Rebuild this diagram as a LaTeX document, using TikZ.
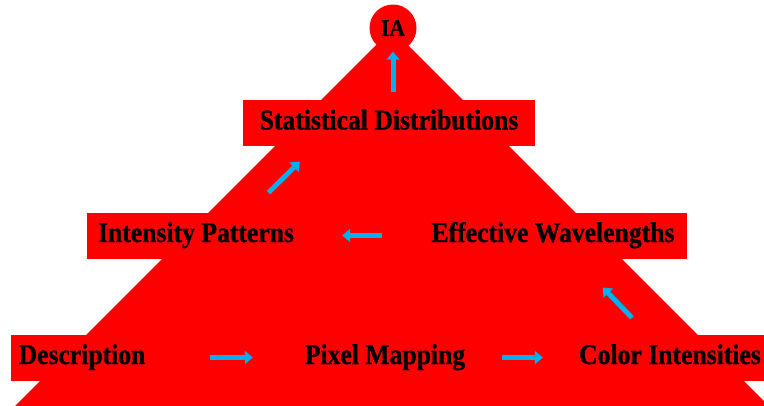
\documentclass[tikz,border=0pt]{standalone}
\usepackage{fontspec}
\setmainfont{Liberation Serif}
\newfontfamily\cajaFont[FakeStretch=0.9, FakeBold=1]{Liberation Serif}
\usepackage{tikz}
\usetikzlibrary{arrows.meta}
\definecolor{rojoTri}{RGB}{255,0,0}
\definecolor{azulFlecha}{RGB}{0,176,240}
\tikzstyle{nodoBox} = [rectangle, fill=rojoTri, minimum height=46, text height=20pt, text depth=7pt, text centered, font=\cajaFont\fontsize{28.5}{32}\selectfont\bfseries]
\tikzstyle{nodoTop} = [circle, fill=rojoTri, minimum size=47, inner sep=0pt, font=\cajaFont\fontsize{24}{28}\selectfont\bfseries]
\tikzstyle{flecha} = [azulFlecha, line width=5pt, -{Triangle[length=8pt,width=13pt]}]

\begin{document}
\begin{tikzpicture}[x=1pt, y=-1pt]
    \useasboundingbox (0,0) rectangle (764,405);
    \clip (0,0) rectangle (764,405);
    \fill[rojoTri] (392,29) -- (792,429) -- (-8,429) -- cycle;

    \node (IA) [nodoTop] at (393,28) {IA};
    \node (Stat) [nodoBox, minimum width=292] at (389,123) {Statistical Distributions};

    \node (Int) [nodoBox, minimum width=218] at (196,235.5) {Intensity Patterns};
    \node (Eff) [nodoBox, minimum width=268] at (553,235.5) {Effective Wavelengths};

    \node (Desc) [nodoBox, minimum width=142] at (82,357.5) {Description};
    \node (Pix) [nodoBox, minimum width=180] at (385,357.5) {Pixel Mapping};
    \node (Col) [nodoBox, minimum width=200] at (670,357.5) {Color Intensities};

    \draw[flecha, shorten <=57, shorten >=42] (Desc.east) -- (Pix.west);
    \draw[flecha, shorten <=27, shorten >=27] (Pix.east) -- (Col.west);
    \draw[flecha, shorten <=55, shorten >=72] (Col.center) -- (Eff.center);
    \draw[flecha, shorten <=37, shorten >=37] (Eff.west) -- (Int.east);
    \draw[flecha, shorten <=61, shorten >=55] ([xshift=29]Int.center) -- ([xshift=-50]Stat.center);
    \draw[flecha, shorten <=8] (Stat.north -| IA.center) -- (IA.south);
\end{tikzpicture}
\end{document}
